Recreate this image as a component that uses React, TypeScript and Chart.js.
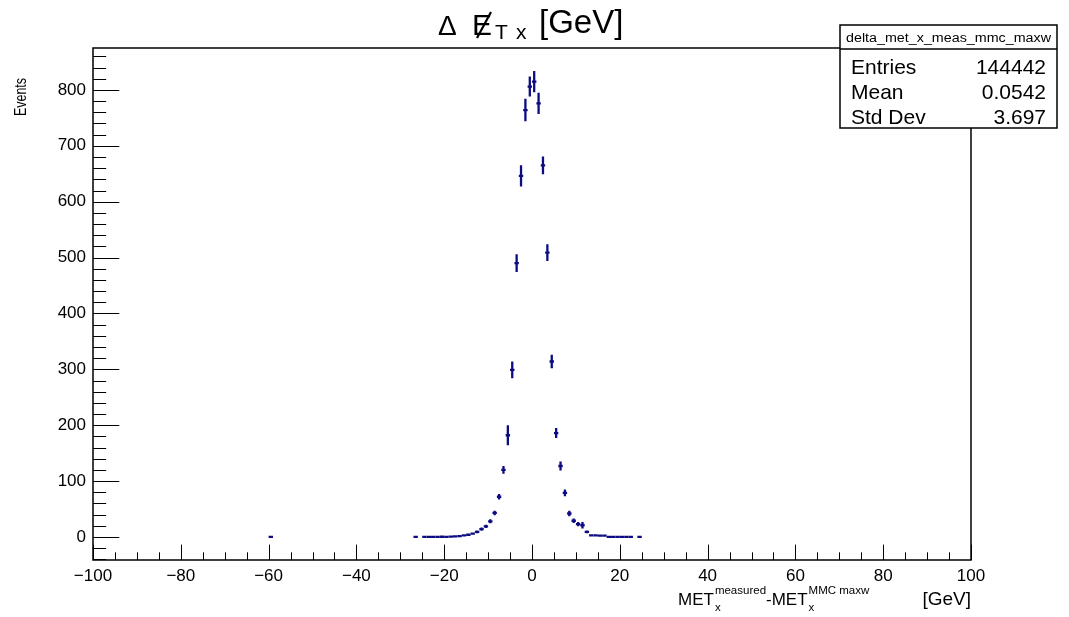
import React, { useEffect, useRef } from "react";
import { Chart, registerables } from "chart.js";

Chart.register(...registerables);

// ---- data (1 GeV bins) ----
const binWidth = 1;
const binCenters = [
  -59.5, -26.5, -24.5, -23.5, -22.5, -21.5, -20.5, -19.5, -18.5, -17.5, -16.5,
  -15.5, -14.5, -13.5, -12.5, -11.5, -10.5, -9.5, -8.5, -7.5, -6.5, -5.5, -4.5,
  -3.5, -2.5, -1.5, -0.5, 0.5, 1.5, 2.5, 3.5, 4.5, 5.5, 6.5, 7.5, 8.5, 9.5,
  10.5, 11.5, 12.5, 13.5, 14.5, 15.5, 16.5, 17.5, 18.5, 19.5, 20.5, 21.5, 22.5,
  24.5,
];
const binContents = [
  0.3, 0.2, 0.2, 0.3, 0.2, 0.3, 0.4, 0.3, 0.5, 1.2, 1.5,
  3, 4, 6, 9, 14, 19, 28, 43, 72, 120, 182, 299,
  490, 646, 764, 806, 815, 776, 665, 509, 314, 186, 127, 79, 42, 29,
  23, 21, 9, 3, 3, 2.5, 2.5, 0.3, 0.3, 0.2, 0.2, 0.2, 0.2,
  0.2,
];
const binErrors = [
  0.3, 0.2, 0.2, 0.3, 0.2, 0.3, 0.4, 0.3, 0.5, 0.8, 1,
  1.5, 1.5, 2, 2.5, 3, 3, 3.5, 4, 5, 7, 18, 15,
  16, 19, 20, 18, 19, 19, 16, 15, 12, 9, 8, 6, 5, 4,
  4, 6, 2.5, 1.5, 1.5, 1.5, 1.5, 0.3, 0.3, 0.2, 0.2, 0.2, 0.2,
  0.2,
];

const xRange = [-100, 100];
const yRange = [-41.2, 875];
const xMajorStep = 20;
const xMinorStep = 5;
const yMajorStep = 100;
const yMinorStep = 20;

const histName = "delta_met_x_meas_mmc_maxw";
const statLabels = ["Entries", "Mean", "Std Dev"];
const statValues = ["144442", "0.0542", "3.697"];

const FONT = '"Liberation Sans", Arial, Helvetica, sans-serif';
const MARKER = "#0c0c80";

const fmtTick = (v: number) => (v < 0 ? "\u2212" + Math.abs(v) : String(v));

const rootPlugin = {
  id: "rootStyle",
  afterDatasetsDraw(chart: any) {
    const { ctx, chartArea, scales } = chart;
    const xs = scales.x;
    const ys = scales.y;
    ctx.save();
    ctx.beginPath();
    ctx.rect(chartArea.left, chartArea.top, chartArea.right - chartArea.left, chartArea.bottom - chartArea.top);
    ctx.clip();
    ctx.strokeStyle = MARKER;
    ctx.lineWidth = 2.3;
    const meta = chart.getDatasetMeta(0);
    const data = chart.data.datasets[0].data;
    meta.data.forEach((el: any, i: number) => {
      const d = data[i];
      const px = el.x;
      const py = el.y;
      const xl = xs.getPixelForValue(d.x - binWidth / 2);
      const xr = xs.getPixelForValue(d.x + binWidth / 2);
      const yt = ys.getPixelForValue(d.y + d.err);
      const yb = ys.getPixelForValue(d.y - d.err);
      ctx.beginPath();
      ctx.moveTo(xl, py);
      ctx.lineTo(xr, py);
      ctx.moveTo(px, Math.min(yt, py - 0.01));
      ctx.lineTo(px, Math.max(yb, py + 0.01));
      ctx.stroke();
    });
    ctx.restore();
  },
  afterDraw(chart: any) {
    const { ctx, chartArea, scales } = chart;
    const xs = scales.x;
    const ys = scales.y;
    const L = chartArea.left, R = chartArea.right, T = chartArea.top, B = chartArea.bottom;
    ctx.save();
    ctx.strokeStyle = "#000";
    ctx.lineWidth = 1;
    const xMajLen = 0.03 * (B - T);
    const yMajLen = 0.03 * (R - L);
    ctx.beginPath();
    for (let v = xRange[0]; v <= xRange[1] + 1e-9; v += xMinorStep) {
      const p = Math.round(xs.getPixelForValue(v)) + 0.5;
      const major = Math.abs(v % xMajorStep) < 1e-9;
      ctx.moveTo(p, B);
      ctx.lineTo(p, B - (major ? xMajLen : xMajLen / 2));
    }
    const yStart = Math.ceil(yRange[0] / yMinorStep) * yMinorStep;
    for (let v = yStart; v <= yRange[1] + 1e-9; v += yMinorStep) {
      const p = Math.round(ys.getPixelForValue(v)) + 0.5;
      const major = Math.abs(v % yMajorStep) < 1e-9;
      ctx.moveTo(L, p);
      ctx.lineTo(L + (major ? yMajLen : yMajLen / 2), p);
    }
    ctx.stroke();
    ctx.lineWidth = 1.5;
    ctx.strokeRect(L, T, R - L, B - T);

    ctx.fillStyle = "#000";
    ctx.textAlign = "left";
    ctx.textBaseline = "alphabetic";

    // title: Delta slash{E}_{T x} [GeV]
    ctx.font = `28px ${FONT}`;
    ctx.fillText("\u0394", 438, 35);
    ctx.font = `30px ${FONT}`;
    ctx.fillText("E", 472, 35);
    ctx.lineWidth = 2.2;
    ctx.beginPath();
    ctx.moveTo(477, 38);
    ctx.lineTo(491, 12);
    ctx.stroke();
    ctx.font = `21px ${FONT}`;
    ctx.fillText("T", 495, 39);
    ctx.fillText("x", 516, 39);
    ctx.font = `33px ${FONT}`;
    ctx.fillText("[GeV]", 539, 33);

    // x axis title
    let cx = 678;
    const big = `17px ${FONT}`;
    const small = `11.5px ${FONT}`;
    const base = 605;
    const seg = (txt: string) => {
      ctx.font = big;
      ctx.fillText(txt, cx, base);
      cx += ctx.measureText(txt).width;
    };
    const supsub = (sup: string, sub: string) => {
      ctx.font = small;
      ctx.fillText(sup, cx + 1, base - 11);
      ctx.fillText(sub, cx + 1, base + 6);
      cx += Math.max(ctx.measureText(sup).width, ctx.measureText(sub).width) + 1;
    };
    seg("MET");
    supsub("measured", "x");
    seg("-MET");
    supsub("MMC maxw", "x");
    ctx.font = `19px ${FONT}`;
    ctx.textAlign = "right";
    ctx.fillText("[GeV]", 971, base);
    ctx.textAlign = "left";

    // y axis title
    ctx.save();
    ctx.font = `16px ${FONT}`;
    const ew = ctx.measureText("Events").width;
    ctx.translate(26, 78);
    ctx.rotate(-Math.PI / 2);
    ctx.scale(38 / ew, 1);
    ctx.textAlign = "right";
    ctx.fillText("Events", 0, 0);
    ctx.restore();

    // stats box
    const bx = 840, by = 25, bw = 217, bh = 103;
    ctx.fillStyle = "#fff";
    ctx.fillRect(bx, by, bw, bh);
    ctx.lineWidth = 1.5;
    ctx.strokeStyle = "#000";
    ctx.strokeRect(bx, by, bw, bh);
    ctx.beginPath();
    ctx.moveTo(bx, 49);
    ctx.lineTo(bx + bw, 49);
    ctx.stroke();
    ctx.fillStyle = "#000";
    ctx.font = `12px ${FONT}`;
    const hw = ctx.measureText(histName).width;
    ctx.save();
    ctx.translate(bx + bw / 2, 42);
    ctx.scale(205 / hw, 1);
    ctx.textAlign = "center";
    ctx.fillText(histName, 0, 0);
    ctx.restore();
    ctx.font = `21px ${FONT}`;
    statLabels.forEach((lab, i) => {
      const yb = 74 + i * 25;
      ctx.textAlign = "left";
      ctx.fillText(lab, 851, yb);
      ctx.textAlign = "right";
      ctx.fillText(statValues[i], 1046, yb);
    });
    ctx.restore();
  },
};

export default function App() {
  const ref = useRef<HTMLCanvasElement | null>(null);
  useEffect(() => {
    document.body.style.margin = "0";
    const canvas = ref.current;
    if (!canvas) return;
    const points = binCenters.map((c, i) => ({ x: c, y: binContents[i], err: binErrors[i] }));
    const chart = new Chart(canvas, {
      type: "scatter",
      data: {
        datasets: [
          {
            data: points as any,
            pointRadius: 0,
            pointHoverRadius: 0,
            showLine: false,
            borderColor: MARKER,
            backgroundColor: MARKER,
          },
        ],
      },
      options: {
        responsive: false,
        animation: false,
        devicePixelRatio: 1,
        layout: { padding: { left: 0, right: 98, top: 48, bottom: 0 } },
        plugins: {
          legend: { display: false },
          tooltip: { enabled: false },
          title: { display: false },
        },
        scales: {
          x: {
            type: "linear",
            min: xRange[0],
            max: xRange[1],
            grid: { display: false, drawTicks: false },
            border: { display: false },
            ticks: {
              stepSize: xMajorStep,
              padding: 6,
              color: "#000",
              autoSkip: false,
              maxRotation: 0,
              font: { family: FONT, size: 17 },
              callback: (v: any) => fmtTick(Number(v)),
            },
            afterFit: (s: any) => {
              s.height = 57;
            },
          },
          y: {
            type: "linear",
            min: yRange[0],
            max: yRange[1],
            grid: { display: false, drawTicks: false },
            border: { display: false },
            ticks: {
              stepSize: yMajorStep,
              padding: 7,
              color: "#000",
              autoSkip: false,
              font: { family: FONT, size: 17 },
              callback: (v: any) => fmtTick(Number(v)),
            },
            afterBuildTicks: (s: any) => {
              s.ticks = s.ticks.filter((t: any) => Math.abs(t.value % yMajorStep) < 1e-9);
            },
            afterFit: (s: any) => {
              s.width = 93;
            },
          },
        },
      } as any,
      plugins: [rootPlugin],
    });
    return () => chart.destroy();
  }, []);
  return (
    <div style={{ position: "absolute", left: 0, top: 0, width: 1069, height: 617, background: "#fff" }}>
      <canvas ref={ref} width={1069} height={617} style={{ width: 1069, height: 617, display: "block" }} />
    </div>
  );
}
